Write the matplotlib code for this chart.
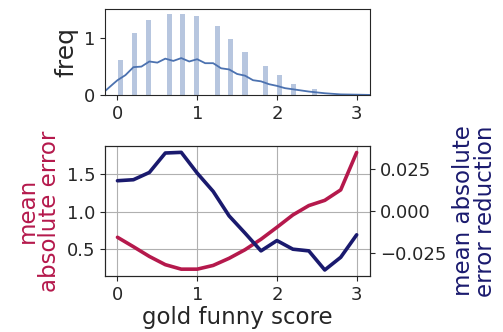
import matplotlib
matplotlib.use('Agg')
import matplotlib.pyplot as plt
import seaborn as sns

sns.set_style('ticks')
plt.rcParams['font.family'] = ['DejaVu Sans']

# histogram of gold funny scores
bin_centers = [0.04, 0.21, 0.39, 0.65, 0.82, 0.99, 1.25, 1.42, 1.60, 1.86, 2.03, 2.21, 2.47]
bin_heights = [0.62, 1.09, 1.32, 1.43, 1.43, 1.40, 1.21, 0.99, 0.75, 0.51, 0.35, 0.19, 0.11]

# kde curve
kde_x = [-0.155, -0.05, 0.0, 0.1, 0.2, 0.3, 0.4, 0.5, 0.6, 0.7, 0.8, 0.9, 1.0, 1.1, 1.2, 1.3,
         1.4, 1.5, 1.6, 1.7, 1.8, 1.9, 2.0, 2.1, 2.2, 2.4, 2.6, 2.8, 3.0, 3.18]
kde_y = [0.07, 0.2, 0.26, 0.35, 0.49, 0.50, 0.59, 0.57, 0.64, 0.60, 0.65, 0.59, 0.63, 0.56,
         0.56, 0.47, 0.45, 0.37, 0.34, 0.26, 0.24, 0.19, 0.16, 0.12, 0.10, 0.06, 0.03, 0.01,
         0.005, 0.0]

score = [0.0, 0.2, 0.4, 0.6, 0.8, 1.0, 1.2, 1.4, 1.6, 1.8, 2.0, 2.2, 2.4, 2.6, 2.8, 3.0]
mae = [0.656, 0.53, 0.40, 0.29, 0.23, 0.23, 0.28, 0.375, 0.49, 0.63, 0.79, 0.955, 1.08,
       1.15, 1.29, 1.79]
mae_reduction = [0.0178, 0.0184, 0.0227, 0.0342, 0.0346, 0.0223, 0.0115, -0.003, -0.0132,
                 -0.0237, -0.0176, -0.0227, -0.0237, -0.035, -0.0275, -0.0142]

red = '#b5194c'
navy = '#1a1a6e'

fig = plt.figure(figsize=(5.03, 3.32), dpi=100)
ax0 = fig.add_axes([0.209, 0.714, 0.527, 0.258])
ax1 = fig.add_axes([0.209, 0.169, 0.527, 0.392])

ax0.bar(bin_centers, bin_heights, width=0.065, color='#4c72b0', alpha=0.4, linewidth=0)
ax0.plot(kde_x, kde_y, color='#4c72b0', lw=1.3)
ax0.set_xlim(-0.155, 3.17)
ax0.set_ylim(0, 1.51)
ax0.set_yticks([0, 1])
ax0.set_xticks([0, 1, 2, 3])
ax0.set_ylabel('freq', fontsize=18)
ax0.tick_params(labelsize=13)

ax1.plot(score, mae, color=red, lw=2.6)
ax1.set_xlim(-0.155, 3.17)
ax1.set_ylim(0.14, 1.88)
ax1.set_yticks([0.5, 1.0, 1.5])
ax1.set_xticks([0, 1, 2, 3])
ax1.grid(True, color='#b0b0b0', lw=0.8)
ax1.tick_params(labelsize=13)
ax1.set_xlabel('gold funny score', fontsize=16.5, labelpad=2)
ax1.set_ylabel('mean\nabsolute error', color=red, fontsize=16.5, linespacing=0.95)

ax2 = ax1.twinx()
ax2.plot(score, mae_reduction, color=navy, lw=2.6)
ax2.set_ylim(-0.0385, 0.0385)
ax2.set_yticks([-0.025, 0.0, 0.025])
ax2.tick_params(labelsize=13)
ax2.set_ylabel('mean absolute\nerror reduction', color=navy, fontsize=16.5, linespacing=0.95)

plt.savefig('out.png', dpi=100)
